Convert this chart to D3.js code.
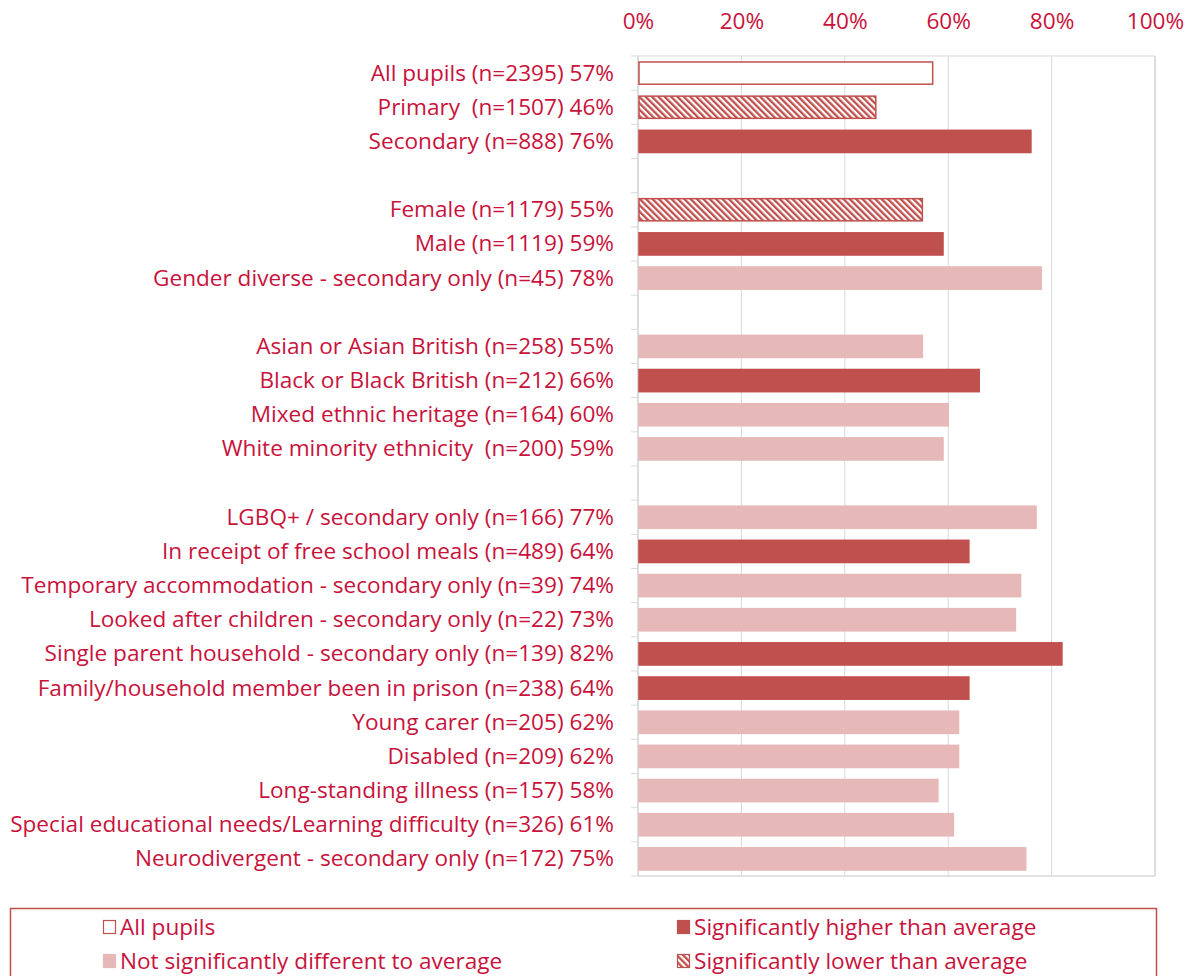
<!DOCTYPE html>
<html>
<head>
<meta charset="utf-8">
<script src="https://cdn.jsdelivr.net/npm/d3@7"></script>
<style>
  html, body { margin: 0; padding: 0; background: #fff; }
  svg { display: block; }
  text { font-family: "Segoe UI", "Open Sans", "Noto Sans", sans-serif; fill: #C8133C; white-space: pre; }
</style>
</head>
<body>
<svg id="chart" width="1189" height="976"></svg>
<script>
// Share of pupils in each group (%), top to bottom; blank strings are spacer rows
const categories = [
  "All pupils (n=2395) 57%",
  "Primary  (n=1507) 46%",
  "Secondary (n=888) 76%",
  "",
  "Female (n=1179) 55%",
  "Male (n=1119) 59%",
  "Gender diverse - secondary only (n=45) 78%",
  " ",
  "Asian or Asian British (n=258) 55%",
  "Black or Black British (n=212) 66%",
  "Mixed ethnic heritage (n=164) 60%",
  "White minority ethnicity  (n=200) 59%",
  "  ",
  "LGBQ+ / secondary only (n=166) 77%",
  "In receipt of free school meals (n=489) 64%",
  "Temporary accommodation - secondary only (n=39) 74%",
  "Looked after children - secondary only (n=22) 73%",
  "Single parent household - secondary only (n=139) 82%",
  "Family/household member been in prison (n=238) 64%",
  "Young carer (n=205) 62%",
  "Disabled (n=209) 62%",
  "Long-standing illness (n=157) 58%",
  "Special educational needs/Learning difficulty (n=326) 61%",
  "Neurodivergent - secondary only (n=172) 75%"
];
const values = [57, 46, 76, null, 55, 59, 78, null, 55, 66, 60, 59, null,
                77, 64, 74, 73, 82, 64, 62, 62, 58, 61, 75];
// all = all pupils, high = significantly higher, same = not significantly different, low = significantly lower
const significance = ["all", "low", "high", null, "low", "high", "same", null,
                      "same", "high", "same", "same", null,
                      "same", "high", "same", "same", "high", "high", "same", "same", "same", "same", "same"];
const xTicks = [0, 20, 40, 60, 80, 100];
const legendItems = [
  { key: "all",  label: "All pupils" },
  { key: "high", label: "Significantly higher than average" },
  { key: "same", label: "Not significantly different to average" },
  { key: "low",  label: "Significantly lower than average" }
];

const dark = "#C0504D", light = "#E6B9B8", grid = "#D9D9D9";
const fontSize = 22.6;
const svg = d3.select("#chart");

// diagonal hatch for the "significantly lower" bars
const defs = svg.append("defs");
const pat = defs.append("pattern")
  .attr("id", "hatch").attr("patternUnits", "userSpaceOnUse")
  .attr("width", 4.5).attr("height", 4.5)
  .attr("patternTransform", "rotate(-45)");
pat.append("rect").attr("width", 4.5).attr("height", 4.5).attr("fill", "#fff");
pat.append("rect").attr("width", 2.3).attr("height", 4.5).attr("fill", dark);

const fillFor = k => k === "all" ? "#fff" : k === "high" ? dark : k === "same" ? light : "url(#hatch)";
const strokeFor = k => k === "same" ? light : dark;

const margin = { left: 638, right: 34, top: 56, bottom: 100 };
const x = d3.scaleLinear().domain([0, 100]).range([margin.left, 1189 - margin.right]);
const y = d3.scaleBand().domain(categories).range([margin.top, 976 - margin.bottom]).paddingInner(0.35).paddingOuter(0.175);

// vertical gridlines and plot frame
const g = svg.append("g");
g.selectAll("line.grid").data(xTicks).join("line")
  .attr("x1", d => x(d)).attr("x2", d => x(d))
  .attr("y1", y.range()[0]).attr("y2", y.range()[1])
  .attr("stroke", grid).attr("stroke-width", 1);
g.append("line").attr("x1", x(0)).attr("x2", x(100))
  .attr("y1", y.range()[0]).attr("y2", y.range()[0]).attr("stroke", grid);
g.append("line").attr("x1", x(0)).attr("x2", x(100))
  .attr("y1", y.range()[1]).attr("y2", y.range()[1]).attr("stroke", grid).attr("stroke-width", 1.5);
g.append("line").attr("x1", x(100)).attr("x2", x(100))
  .attr("y1", y.range()[0]).attr("y2", y.range()[1]).attr("stroke", grid).attr("stroke-width", 1.5);

// top axis labels
const xAxis = d3.axisTop(x).tickValues(xTicks).tickFormat(d => d + "%").tickSize(0).tickPadding(0);
const xa = svg.append("g").attr("transform", "translate(0,29)").call(xAxis);
xa.select(".domain").remove();
xa.selectAll("text").attr("font-size", fontSize).attr("fill", "#C8133C").attr("dy", 0)
  .style("font-family", '"Segoe UI", "Open Sans", "Noto Sans", sans-serif');

// left category axis with tick marks at band boundaries
const step = y.step();
const boundaries = d3.range(categories.length + 1).map(i => y.range()[0] + i * step);
svg.selectAll("line.ytick").data(boundaries).join("line")
  .attr("x1", x(0) - 7).attr("x2", x(0))
  .attr("y1", d => d).attr("y2", d => d).attr("stroke", grid);
svg.append("line").attr("x1", x(0)).attr("x2", x(0))
  .attr("y1", y.range()[0]).attr("y2", y.range()[1]).attr("stroke", grid).attr("stroke-width", 1.5);

// category labels
svg.selectAll("text.cat").data(categories.filter(c => c.trim() !== "")).join("text")
  .attr("x", x(0) - 24).attr("y", d => y(d) + y.bandwidth() / 2 - 1)
  .attr("text-anchor", "end").attr("dominant-baseline", "central")
  .attr("font-size", fontSize).text(d => d);

// bars
const rows = categories.map((c, i) => ({ c, v: values[i], s: significance[i] })).filter(d => d.v != null);
svg.selectAll("rect.bar").data(rows).join("rect")
  .attr("x", x(0) + 1).attr("y", d => y(d.c))
  .attr("width", d => x(d.v) - x(0) - 1).attr("height", y.bandwidth())
  .attr("fill", d => fillFor(d.s)).attr("stroke", d => strokeFor(d.s)).attr("stroke-width", 1.5);

// legend
const lg = svg.append("g");
lg.append("rect").attr("x", 10.5).attr("y", 908.5).attr("width", 1146).attr("height", 80)
  .attr("fill", "none").attr("stroke", dark).attr("stroke-width", 1.5);
const legendPos = [[103, 927], [677, 927], [103, 961], [677, 961]];
legendItems.forEach((it, i) => {
  const [lx, ly] = legendPos[i];
  lg.append("rect").attr("x", lx + 0.5).attr("y", ly - 6.5).attr("width", 12).attr("height", 13)
    .attr("fill", fillFor(it.key)).attr("stroke", strokeFor(it.key)).attr("stroke-width", 1.2);
  lg.append("text").attr("x", lx + 17).attr("y", ly - 1).attr("dominant-baseline", "central")
    .attr("font-size", fontSize).text(it.label);
});
</script>
</body>
</html>
